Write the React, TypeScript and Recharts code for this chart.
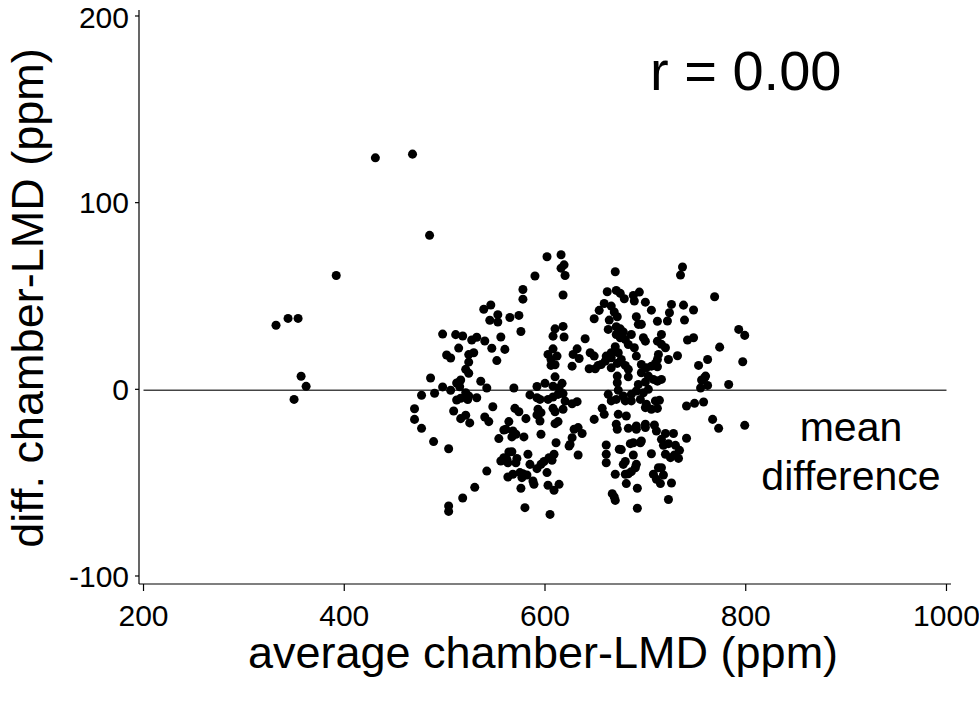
import React from 'react';
import { ScatterChart, Scatter, XAxis, YAxis, ZAxis, ReferenceLine } from 'recharts';

// [average, difference] pairs
const outlierPoints = [
  [431, 124], [468, 126], [485, 82.5], [392, 61], [332, 34.3], [344, 38], [354, 38],
  [357, 7], [362, 1.6], [350, -5.4],
];

const leftCluster = [
  [546, 45.2], [539, 42.9], [553, 40], [545, 37], [553, 36.1], [498, 29.6], [511, 29.3],
  [518, 28.6], [527, 26.4], [532, 27.9], [540, 25.9], [556, 28], [547, 22], [560, 21.4],
  [502, 18.4], [506, 16.8], [514, 22.1], [524, 18.6], [529, 19.6], [524, 14.6], [552, 15.4],
  [521, 10.7], [524, 8.6], [516, 5], [512, 3.4], [486, 6.1], [536, 4.3], [542, 0.7],
  [498, 1.3], [506, -0.5], [514, 3.6], [515, 1.4], [477, -3.2], [490, -2.1], [521, -1.8],
  [524, -3.6], [512, -5.7], [516, -4.8], [532, -4.5], [523, -5.5], [470, -10.4], [470, -16.1],
  [477, -20.9], [489, -28], [504, -31.8], [509, -11.6], [516, -15.7], [521, -13.9], [525, -18],
  [540, -14.8], [544, -17.3], [548, -9.3], [554, -26.4], [559, -21.8], [556, -38.4], [559, -36.6],
  [542, -43.8], [530, -52.5], [518, -58.2], [504, -62.5], [504, -65.4],
];

const middleCluster = [
  [602, 71], [616, 72.1], [619, 66.7], [616, 64.9], [620, 61], [590, 60.7], [578, 53.5],
  [578, 48.3], [618, 50.5], [565, 38.5], [574, 39.6], [576, 31], [610, 32.4], [618, 33.7],
  [608, 28.5], [619, 28], [608, 21.7], [603, 18.7], [612, 17.8], [628, 18.7], [632, 21.7],
  [606, 16], [606, 12.8], [610, 13.2], [627, 12.4], [634, 16.5], [592, 1.5], [600, 3.2],
  [608, 1.7], [610, 6.7], [617, 3.2], [569, 0.7], [614, 0.7],
  [585, -3], [592, -4.5], [595, -5.4], [603, -5.4], [608, -4.1], [613, -2.7], [618, -2.3],
  [620, -6.3], [627, -7.7], [632, -6.6], [570, -10.2], [574, -12], [581, -15.7], [593, -10.7],
  [596, -12.5], [592, -13.7], [595, -17], [608, -10.2], [610, -12], [610, -18.4], [613, -17.3],
  [618, -10.7], [629, -21.4], [633, -20.5], [564, -17.3], [561, -21.4], [568, -22.3], [571, -24.1],
  [579, -25.5], [567, -25.5], [596, -24.1], [627, -25.9], [625, -29.5], [624, -30.4], [611, -28.6],
  [633, -35.2], [609, -34.8], [564, -33.6], [567, -33.4], [562, -37.5], [572, -37], [583, -34.8],
  [571, -39.3], [563, -39.3], [585, -40.2], [596, -40.2], [599, -38.7], [604, -36.6], [607, -38],
  [592, -42.5], [602, -44.6], [575, -44.6], [578, -45.2], [582, -45.9], [563, -47], [568, -45.5],
  [577, -47.3], [588, -49.1], [589, -50.9], [603, -51.4], [609, -54.1], [614, -50.9], [576, -53],
  [580, -63.4], [605, -67],
];

const rightCluster = [
  [670, 63], [662, 52.3], [671, 53], [675, 51.4], [679, 48.5], [688, 50.3], [694, 52.1],
  [689, 47.3], [700, 46.7], [706, 42.4], [712, 36.5], [659, 46], [654, 42.3], [666, 44.6],
  [669, 41.4], [649, 37.8], [664, 37.1], [672, 38.9], [691, 38.9], [693, 34.8], [696, 34.8],
  [663, 32.1], [671, 33.5], [675, 32.4], [678, 30.7], [686, 29.4], [671, 29.4], [675, 27.6],
  [680, 26.7], [640, 27.1], [698, 27.6], [700, 25.8], [712, 25.8], [683, 24], [689, 22.3],
  [691, 17.8], [670, 22.8], [666, 19.6], [661, 17.8], [673, 19.6], [666, 16.9], [676, 16],
  [672, 13.9], [660, 15.1], [656, 13.3], [645, 19.6], [649, 17.8], [644, 11], [650, 11],
  [653, 12.8], [666, 11.5], [680, 12.8], [683, 10.7], [696, 13.3], [701, 11.5], [706, 12.4],
  [710, 13.9], [712, 12.1], [696, 8.9], [703, 7.1], [672, 7.1], [672, 3.5], [683, 6.7],
  [693, 2.6], [700, 3.9], [708, 5.3], [712, 4.4],
  [663, -2.7], [673, -0.5], [678, -3.6], [686, -2.7], [691, -0.9], [698, -1.8], [703, 0],
  [666, -6.2], [671, -5.4], [680, -6.2], [686, -6.2], [695, -5.4], [701, -8], [710, -6.2],
  [714, -5.9], [657, -10.2], [659, -13.4], [673, -13.4], [681, -14.3], [700, -9.8], [706, -10.7],
  [712, -10.2], [649, -16.1], [671, -18.7], [672, -21.4], [683, -20.9], [691, -19.6], [691, -21.4],
  [700, -20.5], [700, -18.7], [709, -19.1], [711, -22.3], [637, -23.7], [685, -29.1], [688, -28.6],
  [695, -28.6], [696, -27.7], [661, -29.8], [706, -34.5], [674, -32.1], [676, -32.3], [661, -34.8],
  [661, -39.3], [688, -35.2], [680, -38.7], [678, -40.2], [691, -40.2], [690, -42], [713, -42],
  [670, -45.5], [680, -45.5], [683, -45.2], [686, -44.1], [708, -45.5], [711, -48.2], [681, -50.5],
  [692, -53], [667, -55.9], [669, -57.7], [670, -59.5], [692, -63.7],
];

const farRightCluster = [
  [737, 65.5], [735, 61.2], [769, 49.6], [726, 45.5], [738, 45.1], [748, 42.5], [724, 41],
  [722, 36.6], [739, 37.1], [716, 29.4], [716, 24.1], [720, 22.3], [742, 26.4], [748, 27.6],
  [774, 22.6], [713, 18.7], [712, 16], [723, 16], [732, 18], [753, 12.8], [762, 16],
  [716, 5.3], [759, 6.2], [760, 7.1], [756, 5], [762, 2.1], [755, 0.7], [783, 2.6],
  [741, -8.9], [749, -7.5], [758, -6.8], [767, -16.1], [773, -20.9], [720, -23.7], [728, -23.7],
  [716, -26.8], [723, -29.1], [730, -30], [741, -26.2], [718, -30], [734, -32.7], [720, -34.8],
  [725, -36.6], [729, -35.2], [733, -37], [716, -42], [718, -45.9], [715, -50.5], [726, -50.2],
  [723, -59], [793, 32.1], [799, 28.9], [797, 14.8], [799, -19.3],
];

const xTicks = [200, 400, 600, 800, 1000];
const yTicks = [-100, 0, 100, 200];
const meanDiff = -0.5;

const points = [...outlierPoints, ...leftCluster, ...middleCluster, ...rightCluster, ...farRightCluster]
  .map(([avg, diff]) => ({ avg, diff }));

const font = '"Liberation Sans", Arial, sans-serif';

export default function App() {
  return (
    <div style={{ position: 'absolute', left: 0, top: 0, width: 979, height: 704, background: '#fff' }}>
      <ScatterChart width={979} height={704} margin={{ top: 10, right: 28, bottom: 0, left: 0 }}>
        <XAxis
          type="number"
          dataKey="avg"
          domain={[195.5, 1004.5]}
          allowDataOverflow
          ticks={xTicks}
          tickSize={7}
          tickMargin={14}
          height={120}
          stroke="#000"
          strokeWidth={1.2}
          tick={{ fill: '#000', fontSize: 30, fontFamily: font }}
        />
        <YAxis
          type="number"
          dataKey="diff"
          domain={[-104.29, 203.21]}
          allowDataOverflow
          ticks={yTicks}
          tickSize={4}
          tickMargin={6}
          width={139}
          stroke="#000"
          strokeWidth={1.2}
          tick={{ fill: '#000', fontSize: 30, fontFamily: font }}
        />
        <ZAxis range={[42, 42]} />
        <ReferenceLine
          segment={[{ x: 200, y: meanDiff }, { x: 1000, y: meanDiff }]}
          stroke="#444"
          strokeWidth={1.5}
        />
        <Scatter data={points} fill="#000" isAnimationActive={false} />
      </ScatterChart>
      <svg
        width={979}
        height={704}
        style={{ position: 'absolute', left: 0, top: 0, pointerEvents: 'none' }}
        fontFamily={font}
      >
        <text x={650} y={90} fontSize={56} fill="#000">r = 0.00</text>
        <text x={851} y={441} fontSize={41} fill="#000" textAnchor="middle">mean</text>
        <text x={851} y={490} fontSize={41} fill="#000" textAnchor="middle">difference</text>
        <text x={543} y={668} fontSize={45} fill="#000" textAnchor="middle">average chamber-LMD (ppm)</text>
        <text transform="translate(43,298) rotate(-90)" fontSize={45} fill="#000" textAnchor="middle">
          diff. chamber-LMD (ppm)
        </text>
      </svg>
    </div>
  );
}
